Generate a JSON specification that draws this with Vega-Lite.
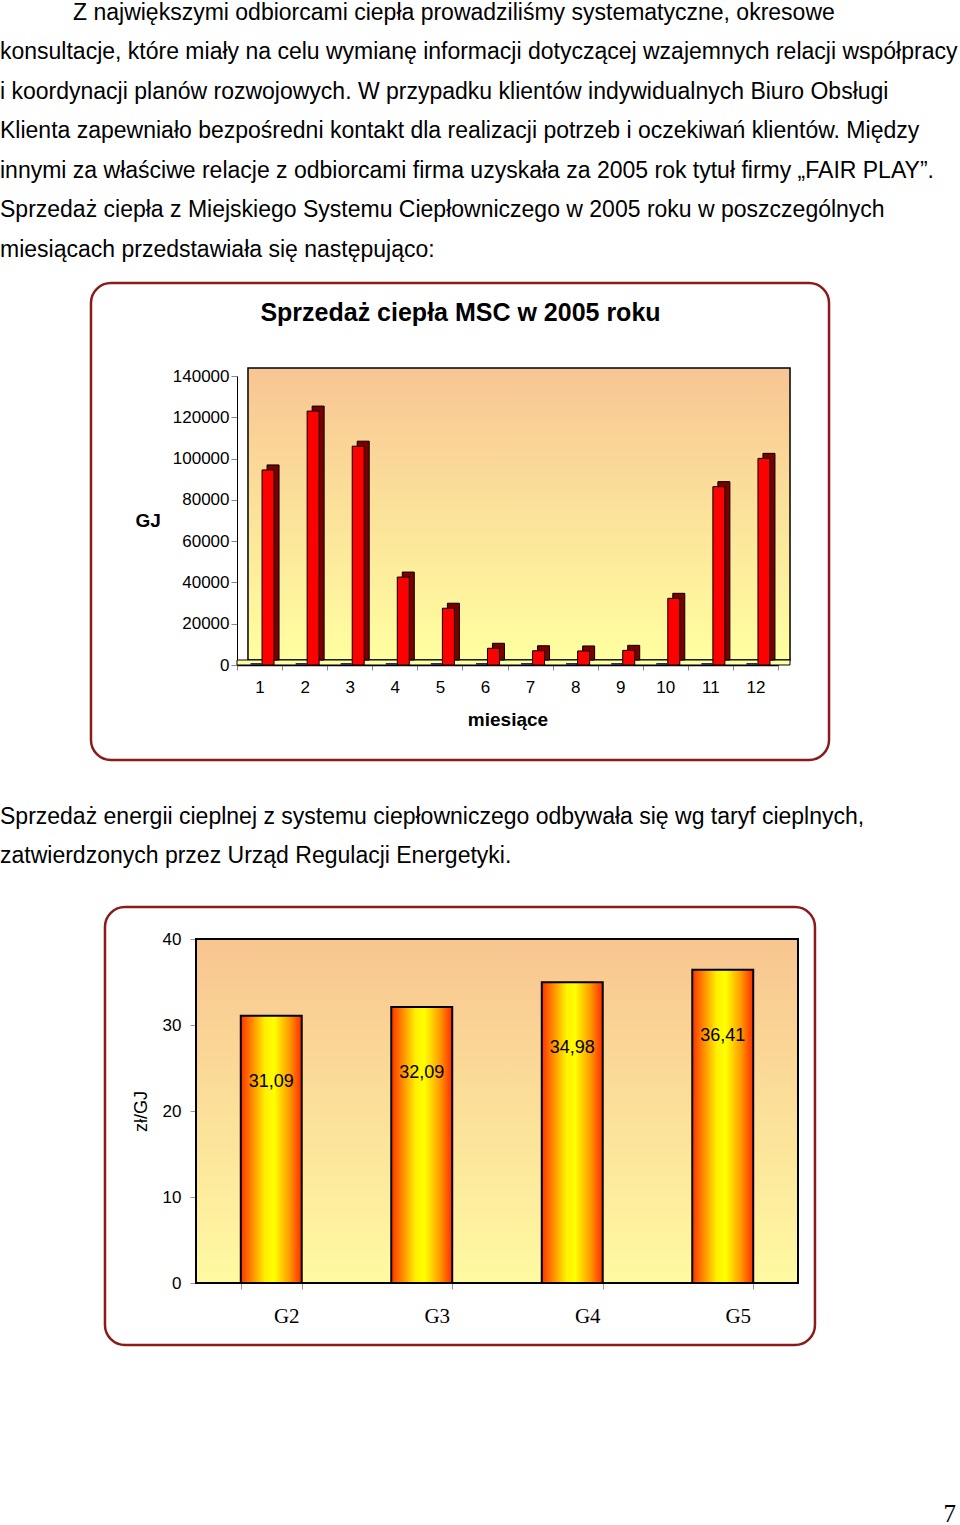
{
  "$schema": "https://vega.github.io/schema/vega-lite/v6.json",
  "padding": 0,
  "background": "white",
  "config": {
    "view": {"stroke": null},
    "font": "Liberation Sans",
    "locale": {"number": {"decimal": ",", "thousands": "\u00a0", "grouping": [3], "currency": ["", " zł"]}}
  },
  "datasets": {
    "bodyA": [
      {"line": 1, "first": true, "text": "Z największymi odbiorcami ciepła prowadziliśmy systematyczne, okresowe"},
      {"line": 2, "first": false, "text": "konsultacje, które miały na celu wymianę informacji dotyczącej wzajemnych relacji współpracy"},
      {"line": 3, "first": false, "text": "i koordynacji planów rozwojowych. W przypadku klientów indywidualnych Biuro Obsługi"},
      {"line": 4, "first": false, "text": "Klienta zapewniało bezpośredni kontakt dla realizacji potrzeb i oczekiwań klientów. Między"},
      {"line": 5, "first": false, "text": "innymi za właściwe relacje z odbiorcami firma uzyskała za 2005 rok tytuł firmy „FAIR PLAY”."},
      {"line": 6, "first": false, "text": "Sprzedaż ciepła z Miejskiego Systemu Ciepłowniczego w 2005 roku w poszczególnych"},
      {"line": 7, "first": false, "text": "miesiącach przedstawiała się następująco:"}
    ],
    "bodyB": [
      {"line": 1, "text": "Sprzedaż energii cieplnej z systemu ciepłowniczego odbywała się wg taryf cieplnych,"},
      {"line": 2, "text": "zatwierdzonych przez Urząd Regulacji Energetyki."}
    ],
    "sales": [
      {"month": 1, "GJ": 94500},
      {"month": 2, "GJ": 123000},
      {"month": 3, "GJ": 106000},
      {"month": 4, "GJ": 42600},
      {"month": 5, "GJ": 27500},
      {"month": 6, "GJ": 8100},
      {"month": 7, "GJ": 6900},
      {"month": 8, "GJ": 6800},
      {"month": 9, "GJ": 7100},
      {"month": 10, "GJ": 32300},
      {"month": 11, "GJ": 86400},
      {"month": 12, "GJ": 100100}
    ],
    "zeroSeries": [
      {"month": 1, "GJ": 0}, {"month": 2, "GJ": 0}, {"month": 3, "GJ": 0}, {"month": 4, "GJ": 0},
      {"month": 5, "GJ": 0}, {"month": 6, "GJ": 0}, {"month": 7, "GJ": 0}, {"month": 8, "GJ": 0},
      {"month": 9, "GJ": 0}, {"month": 10, "GJ": 0}, {"month": 11, "GJ": 0}, {"month": 12, "GJ": 0}
    ],
    "tariff": [
      {"group": "G2", "price": 31.09},
      {"group": "G3", "price": 32.09},
      {"group": "G4", "price": 34.98},
      {"group": "G5", "price": 36.41}
    ],
    "page": [{"page": 7}]
  },
  "spacing": 0,
  "bounds": "full",
  "vconcat": [
    {
      "width": 960,
      "height": 280.75,
      "data": {"name": "bodyA"},
      "encoding": {
        "x": {"datum": 0, "type": "quantitative", "scale": {"domain": [0, 1]}, "axis": null},
        "y": {"field": "line", "type": "quantitative", "scale": {"domain": [0.6709, 7.7785], "reverse": true, "nice": false, "zero": false}, "axis": null},
        "text": {"field": "text"}
      },
      "layer": [
        {
          "transform": [{"filter": "!datum.first"}],
          "mark": {"type": "text", "align": "left", "baseline": "middle", "font": "Liberation Sans", "fontSize": 23, "color": "black"}
        },
        {
          "transform": [{"filter": "datum.first"}],
          "mark": {"type": "text", "align": "left", "baseline": "middle", "font": "Liberation Sans", "fontSize": 23, "color": "black", "dx": 73}
        }
      ]
    },
    {
      "spacing": 0,
      "bounds": "flush",
      "hconcat": [
        {"width": 237, "height": 289, "data": {"values": []}, "mark": "point"},
        {
          "width": 541,
          "height": 289,
          "title": {"text": "Sprzedaż ciepła MSC w 2005 roku", "font": "Liberation Sans", "fontSize": 25, "fontWeight": "bold", "color": "black", "anchor": "middle", "baseline": "alphabetic", "offset": -64, "dx": -47},
          "resolve": {"scale": {"x": "independent", "y": "independent"}, "axis": {"x": "independent", "y": "independent"}},
          "layer": [
            {
              "data": {"values": [{}]},
              "mark": {"type": "rect", "fill": null, "stroke": "#8B1A1A", "strokeWidth": 2.5, "cornerRadius": 20},
              "encoding": {
                "x": {"datum": -0.2699, "type": "quantitative", "scale": {"domain": [0, 1]}, "axis": null},
                "x2": {"datum": 1.0943},
                "y": {"datum": -0.3287, "type": "quantitative", "scale": {"domain": [0, 1]}, "axis": null},
                "y2": {"datum": 1.3218}
              }
            },
            {
              "data": {"values": [{}]},
              "mark": {"type": "rect", "stroke": "black", "strokeWidth": 1.5,
                "fill": {"gradient": "linear", "x1": 0, "y1": 0, "x2": 0, "y2": 1, "stops": [{"offset": 0, "color": "#F8C594"}, {"offset": 1, "color": "#FFFFA0"}]}},
              "encoding": {
                "x": {"datum": 0.0203, "type": "quantitative", "scale": {"domain": [0, 1]}, "axis": null},
                "x2": {"datum": 1.0222},
                "y": {"datum": 0.0173, "type": "quantitative", "scale": {"domain": [0, 1]}, "axis": null},
                "y2": {"datum": 1.0277}
              }
            },
            {
              "data": {"values": [{}]},
              "mark": {"type": "rect", "stroke": "black", "strokeWidth": 1, "fill": "#FFFFA5"},
              "encoding": {
                "x": {"datum": 0, "type": "quantitative", "scale": {"domain": [0, 1]}, "axis": null},
                "x2": {"datum": 1.0222},
                "y": {"datum": 0, "type": "quantitative", "scale": {"domain": [0, 1]}, "axis": null},
                "y2": {"datum": 0.0173}
              }
            },
            {
              "data": {"name": "zeroSeries"},
              "mark": {"type": "bar", "width": 11, "xOffset": -3.5, "yOffset": -1, "y2Offset": -1, "fill": "#505070", "stroke": "#303050", "strokeWidth": 2},
              "encoding": {
                "x": {"field": "month", "type": "ordinal", "scale": {"paddingInner": 0, "paddingOuter": 0}, "axis": null},
                "y": {"field": "GJ", "type": "quantitative", "scale": {"domain": [0, 140000], "nice": false}, "axis": null}
              }
            },
            {
              "data": {"name": "sales"},
              "mark": {"type": "bar", "width": 12, "xOffset": 13.5, "yOffset": -5, "y2Offset": -5, "fill": "#7A0000", "stroke": "black", "strokeWidth": 1},
              "encoding": {
                "x": {"field": "month", "type": "ordinal", "scale": {"paddingInner": 0, "paddingOuter": 0}, "axis": null},
                "y": {"field": "GJ", "type": "quantitative", "scale": {"domain": [0, 140000], "nice": false}, "axis": null}
              }
            },
            {
              "data": {"name": "sales"},
              "mark": {"type": "bar", "width": 12, "xOffset": 8.5, "fill": "#FF0000", "stroke": "black", "strokeWidth": 1},
              "encoding": {
                "x": {"field": "month", "type": "ordinal", "scale": {"paddingInner": 0, "paddingOuter": 0},
                  "axis": {"orient": "bottom", "title": "miesiące", "titleFontSize": 19, "titleFontWeight": "bold", "titleColor": "black", "titlePadding": 15,
                    "labelAngle": 0, "labelFontSize": 17, "labelColor": "black", "labelPadding": 9, "tickBand": "extent", "tickSize": 5, "tickColor": "#888888",
                    "domainColor": "black", "domainWidth": 1.5}},
                "y": {"field": "GJ", "type": "quantitative", "scale": {"domain": [0, 140000], "nice": false},
                  "axis": {"orient": "left", "title": "GJ", "titleAngle": 0, "titleAlign": "right", "titleBaseline": "middle", "titleFontSize": 19, "titleFontWeight": "bold", "titleColor": "black", "titlePadding": 12,
                    "values": [0, 20000, 40000, 60000, 80000, 100000, 120000, 140000], "format": "d", "labelFontSize": 17, "labelColor": "black", "labelPadding": 2,
                    "tickSize": 6, "tickColor": "#888888", "domainColor": "black", "grid": false}}
              }
            }
          ]
        }
      ]
    },
    {
      "width": 960,
      "height": 142.5,
      "data": {"name": "bodyB"},
      "mark": {"type": "text", "align": "left", "baseline": "middle", "font": "Liberation Sans", "fontSize": 23, "color": "black"},
      "encoding": {
        "x": {"datum": 0, "type": "quantitative", "scale": {"domain": [0, 1]}, "axis": null},
        "y": {"field": "line", "type": "quantitative", "scale": {"domain": [-0.4038, 3.25], "reverse": true, "nice": false, "zero": false}, "axis": null},
        "text": {"field": "text"}
      }
    },
    {
      "spacing": 0,
      "bounds": "flush",
      "hconcat": [
        {"width": 196, "height": 344, "data": {"values": []}, "mark": "point"},
        {
          "width": 602,
          "height": 344,
          "resolve": {"scale": {"x": "independent", "y": "independent"}, "axis": {"x": "independent", "y": "independent"}},
          "layer": [
            {
              "data": {"values": [{}]},
              "mark": {"type": "rect", "fill": null, "stroke": "#8B1A1A", "strokeWidth": 2.5, "cornerRadius": 20},
              "encoding": {
                "x": {"datum": -0.1512, "type": "quantitative", "scale": {"domain": [0, 1]}, "axis": null},
                "x2": {"datum": 1.0282},
                "y": {"datum": -0.1802, "type": "quantitative", "scale": {"domain": [0, 1]}, "axis": null},
                "y2": {"datum": 1.093}
              }
            },
            {
              "data": {"values": [{}]},
              "mark": {"type": "rect", "stroke": "black", "strokeWidth": 2,
                "fill": {"gradient": "linear", "x1": 0, "y1": 0, "x2": 0, "y2": 1, "stops": [{"offset": 0, "color": "#F8C590"}, {"offset": 1, "color": "#FFFAA2"}]}},
              "encoding": {
                "x": {"datum": 0, "type": "quantitative", "scale": {"domain": [0, 1]}, "axis": null},
                "x2": {"datum": 1},
                "y": {"datum": 0, "type": "quantitative", "scale": {"domain": [0, 1]}, "axis": null},
                "y2": {"datum": 1}
              }
            },
            {
              "data": {"name": "tariff"},
              "mark": {"type": "bar", "stroke": "black", "strokeWidth": 2,
                "fill": {"gradient": "linear", "x1": 0, "y1": 0, "x2": 1, "y2": 0, "stops": [
                  {"offset": 0, "color": "#FF3300"}, {"offset": 0.15, "color": "#FF7A00"}, {"offset": 0.4, "color": "#FFF000"},
                  {"offset": 0.55, "color": "#FFFF00"}, {"offset": 0.8, "color": "#FF9900"}, {"offset": 1, "color": "#FF2A00"}]}},
              "encoding": {
                "x": {"field": "group", "type": "nominal", "scale": {"paddingInner": 0.595, "paddingOuter": 0.2975},
                  "axis": {"orient": "bottom", "title": null, "labelAngle": 0, "labelFont": "Liberation Serif", "labelFontSize": 21, "labelColor": "black",
                    "labelPadding": 16, "labelOffset": 15, "tickBand": "extent", "tickSize": 6, "tickColor": "#999999", "domain": false}},
                "y": {"field": "price", "type": "quantitative", "scale": {"domain": [0, 40], "nice": false},
                  "axis": {"orient": "left", "title": "zł/GJ", "titleFontSize": 18, "titleFontWeight": "normal", "titleColor": "black", "titlePadding": 12,
                    "values": [0, 10, 20, 30, 40], "labelFontSize": 17, "labelColor": "black", "labelPadding": 9, "tickSize": 6, "tickColor": "#999999",
                    "domain": false, "grid": false}}
              }
            },
            {
              "data": {"name": "tariff"},
              "mark": {"type": "text", "baseline": "middle", "fontSize": 18, "color": "black", "dy": 66},
              "encoding": {
                "x": {"field": "group", "type": "nominal", "scale": {"paddingInner": 0.595, "paddingOuter": 0.2975}, "axis": null},
                "y": {"field": "price", "type": "quantitative", "scale": {"domain": [0, 40], "nice": false}, "axis": null},
                "text": {"field": "price", "type": "quantitative", "format": ".2f"}
              }
            }
          ]
        }
      ]
    },
    {
      "width": 960,
      "height": 178.75,
      "data": {"name": "page"},
      "mark": {"type": "text", "align": "right", "baseline": "middle", "font": "Liberation Serif", "fontSize": 25, "color": "black", "dx": -4},
      "encoding": {
        "x": {"datum": 1, "type": "quantitative", "scale": {"domain": [0, 1]}, "axis": null},
        "y": {"datum": 0.0671, "type": "quantitative", "scale": {"domain": [0, 1]}, "axis": null},
        "text": {"field": "page", "type": "nominal"}
      }
    }
  ]
}
